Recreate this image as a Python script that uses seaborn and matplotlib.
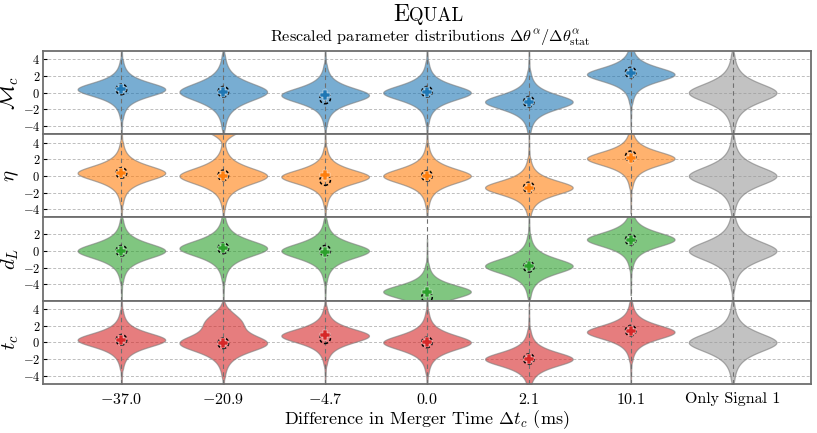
from statistics import NormalDist
import numpy as np
import pandas as pd
import matplotlib
matplotlib.use("Agg")
import matplotlib.pyplot as plt
import seaborn as sns

categories = ["-37.0", "-20.9", "-4.7", "0.0", "2.1", "10.1", "Only Signal 1"]
tick_labels = [r"$-37.0$", r"$-20.9$", r"$-4.7$", r"$0.0$", r"$2.1$", r"$10.1$", "Only Signal 1"]
param_labels = [r"$\mathcal{M}_c$", r"$\eta$", r"$d_L$", r"$t_c$"]
param_colors = ["tab:blue", "tab:orange", "tab:green", "tab:red"]
ref_color = "#9a9a9a"

# peak position and width of each violin
mc_center = [0.4, 0.1, -0.3, 0.0, -1.1, 2.2, 0.0]
eta_center = [0.35, 0.0, -0.1, 0.0, -1.4, 2.1, 0.0]
dl_center = [0.0, 0.3, 0.0, -4.85, -1.8, 1.35, 0.0]
tc_center = [0.3, -0.1, 0.8, 0.0, -2.0, 1.25, 0.0]

mc_scale = [0.95, 1.2, 1.0, 1.0, 1.0, 0.95, 1.25]
eta_scale = [1.0, 1.05, 0.95, 1.0, 0.95, 0.95, 1.25]
dl_scale = [1.0, 1.05, 1.0, 0.9, 1.0, 0.95, 1.25]
tc_scale = [0.95, 1.1, 0.95, 1.0, 0.95, 0.95, 1.25]

# secondary lobes: (panel, category index, centre, width, weight)
extra_modes = [(1, 1, 6.0, 0.8, 0.26), (3, 1, 2.5, 1.0, 0.2)]

# dashed circle and plus markers
mc_circle = [0.4, 0.1, -0.7, 0.1, -1.1, 2.4]
mc_plus = [0.4, 0.1, -0.3, 0.05, -1.1, 2.3]
eta_circle = [0.35, 0.05, -0.5, 0.0, -1.4, 2.35]
eta_plus = [0.35, 0.0, 0.1, 0.0, -1.5, 2.1]
dl_circle = [0.0, 0.3, 0.0, -5.5, -1.9, 1.3]
dl_plus = [0.0, 0.3, -0.1, -4.9, -1.8, 1.3]
tc_circle = [0.3, -0.1, 0.5, 0.0, -2.0, 1.4]
tc_plus = [0.3, -0.1, 0.9, 0.0, -2.0, 1.4]

centers = [mc_center, eta_center, dl_center, tc_center]
scales = [mc_scale, eta_scale, dl_scale, tc_scale]
circles = [mc_circle, eta_circle, dl_circle, tc_circle]
pluses = [mc_plus, eta_plus, dl_plus, tc_plus]
ylims = [(-5, 5), (-5, 5), (-5.93, 3.95), (-5, 5)]
yticks = [[-4, -2, 0, 2, 4], [-4, -2, 0, 2, 4], [-4, -2, 0, 2], [-4, -2, 0, 2, 4]]

# heavy tailed shape: evenly spaced quantiles of student-t (2 and 4 dof)
u = np.linspace(0.01, 0.99, 800)
t2 = (2 * u - 1) / np.sqrt(2 * u * (1 - u))
a = 4 * u * (1 - u)
q = np.cos(np.arccos(np.sqrt(a)) / 3) / np.sqrt(a)
t4 = np.sign(u - 0.5) * 2 * np.sqrt(np.clip(q - 1, 0, None))
base = np.concatenate([t2, t4])
nd = NormalDist()
u2 = np.linspace(0.01, 0.99, 300)
gauss = np.array([nd.inv_cdf(p) for p in u2])

plt.rcParams["font.family"] = "serif"
plt.rcParams["font.serif"] = ["cmr10"]
plt.rcParams["mathtext.fontset"] = "cm"
plt.rcParams["axes.formatter.use_mathtext"] = True

fig, axes = plt.subplots(4, 1, figsize=(8.17, 4.33), dpi=100, sharex=True)
fig.subplots_adjust(left=0.0526, right=0.9927, top=0.8822, bottom=0.1132, hspace=0)

for i, ax in enumerate(axes):
    rows = []
    for j, cat in enumerate(categories):
        vals = centers[i][j] + scales[i][j] * base
        for (p, c, m, w, frac) in extra_modes:
            if p == i and c == j:
                k = int(len(base) * frac / (1 - frac))
                extra = m + w * np.interp(np.linspace(0, 1, k), np.linspace(0, 1, len(gauss)), gauss)
                vals = np.concatenate([vals, extra])
        rows.append(pd.DataFrame({"cat": cat, "value": vals}))
    df = pd.concat(rows, ignore_index=True)

    palette = {c: param_colors[i] for c in categories}
    palette[categories[-1]] = ref_color

    for y in yticks[i]:
        ax.axhline(y, color="#bdbdbd", lw=0.7, ls=(0, (3, 2)), zorder=0)
    for j in range(len(categories)):
        ax.axvline(j, color="#707070", lw=0.8, ls=(0, (4, 3)), zorder=3)

    sns.violinplot(data=df, x="cat", y="value", hue="cat", order=categories,
                   hue_order=categories, palette=palette, legend=False,
                   inner=None, cut=0, density_norm="width", width=0.86,
                   bw_adjust=0.4, gridsize=600, saturation=1,
                   linecolor="#7a7a7a", linewidth=0.9, alpha=0.6, ax=ax)

    xs = np.arange(len(circles[i]))
    ax.scatter(xs, circles[i], s=58, facecolor="none", edgecolor="black",
               linewidth=1.1, linestyle=(0, (2, 1.5)), zorder=5)
    ax.scatter(xs, pluses[i], s=44, marker="P", color=param_colors[i],
               edgecolor="white", linewidth=0.3, zorder=6)

    ax.set_ylim(*ylims[i])
    ax.set_yticks(yticks[i])
    ax.set_xlim(-0.77, 6.77)
    ax.set_ylabel(param_labels[i], fontsize=15, labelpad=1)
    ax.set_xlabel("")
    ax.tick_params(axis="y", direction="in", length=3, labelsize=9, pad=2)
    ax.tick_params(axis="x", length=0, labelsize=11.5, pad=6)
    for s in ax.spines.values():
        s.set_color("#6e6e6e")
        s.set_linewidth(1.3)

axes[-1].set_xticks(range(len(categories)))
axes[-1].set_xticklabels(tick_labels)
axes[-1].set_xlabel(r"Difference in Merger Time $\Delta t_c$ (ms)", fontsize=13, labelpad=1)

fig.text(0.5006, 0.952, "E", fontsize=17, ha="right", va="baseline")
fig.text(0.5006, 0.952, "QUAL", fontsize=13.5, ha="left", va="baseline")
fig.text(0.526, 0.903, r"Rescaled parameter distributions $\Delta\theta^\alpha/\Delta\theta^\alpha_{\rm stat}$",
         fontsize=11.7, ha="center", va="baseline")

fig.savefig("out.png", dpi=100)
